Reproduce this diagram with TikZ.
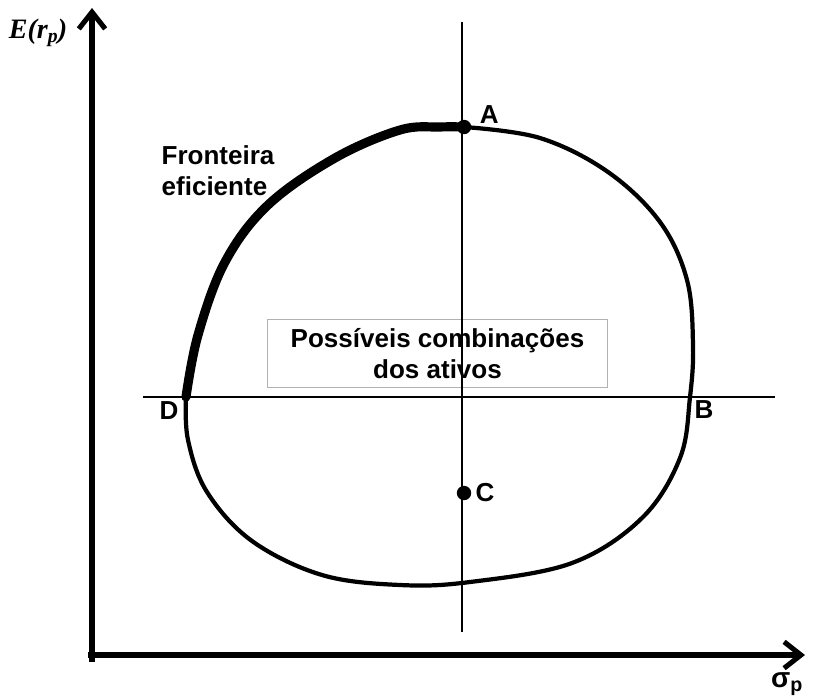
\documentclass[tikz,border=0pt]{standalone}
\usepackage{fontspec}
\setmainfont{Liberation Sans}
\newfontfamily\serifit{Liberation Serif}
\usetikzlibrary{arrows.meta,positioning}

\begin{document}
\begin{tikzpicture}[x=0.025cm,y=-0.025cm,font=\bfseries\fontsize{18.5}{22}\selectfont,
  axis/.style={line width=3.6pt,-{Straight Barb[length=0.42cm,width=0.66cm,line width=3.6pt]}},
  guide/.style={line width=2pt},
  curve/.style={line width=3pt,line join=round},
  front/.style={line width=6.5pt,line cap=round,line join=round},
  pt/.style={circle,fill,inner sep=0pt,minimum size=0.36cm},
  lbl/.style={inner sep=1pt}]
\useasboundingbox (0,0) rectangle (815,697);
% caixa de texto (fica por baixo das linhas)
\node[draw=black!30,line width=0.8pt,align=center,minimum width=8.5cm,minimum height=1.72cm,inner sep=2pt] (box) at (437.5,353.5) {Possíveis combinações\\dos ativos};
% eixos
\draw[axis] (88,655) -- (805,655);
\draw[axis] (92,662) -- (92,8);
\node[lbl] (ylab) at (38,33) {\serifit\bfseries\itshape\fontsize{20}{24}\selectfont E(r\raisebox{-0.35ex}{\fontsize{14}{16}\selectfont p})};
\node[lbl] (xlab) at (787,684) {\fontsize{20}{22}\selectfont σ\textsubscript{p}};
% linhas de referencia
\draw[guide] (143,397) -- (775,397);
\draw[guide] (462,22) -- (462,632);
% conjunto de combinacoes
\coordinate (A) at (464,127);
\coordinate (B) at (690,397);
\coordinate (C) at (464,493);
\coordinate (D) at (186,397);
\draw[curve] plot[smooth,tension=0.6] coordinates {(A) (540,138) (608,172) (660,222) (687,280) (693,345) (B)
  (680,458) (642,518) (572,563) (470,582) (400,585) (322,575) (252,541) (207,492) (188,440) (D)};
\draw[front] plot[smooth,tension=0.6] coordinates {(D) (198,335) (225,262) (268,205) (335,158) (400,130) (440,127) (A)};
\node[pt] at (A) {};
\node[pt] at (C) {};
\node[lbl,above right=1pt and 10pt of A] (la) {A};
\node[lbl,right=7pt of C] (lc) {C};
\node[lbl] (ld) at (169,411) {D};
\node[lbl] (lb) at (704,410) {B};
\node[lbl,align=left,anchor=north west] (fr) at (160,144) {Fronteira\\eficiente};
\end{tikzpicture}
\end{document}
